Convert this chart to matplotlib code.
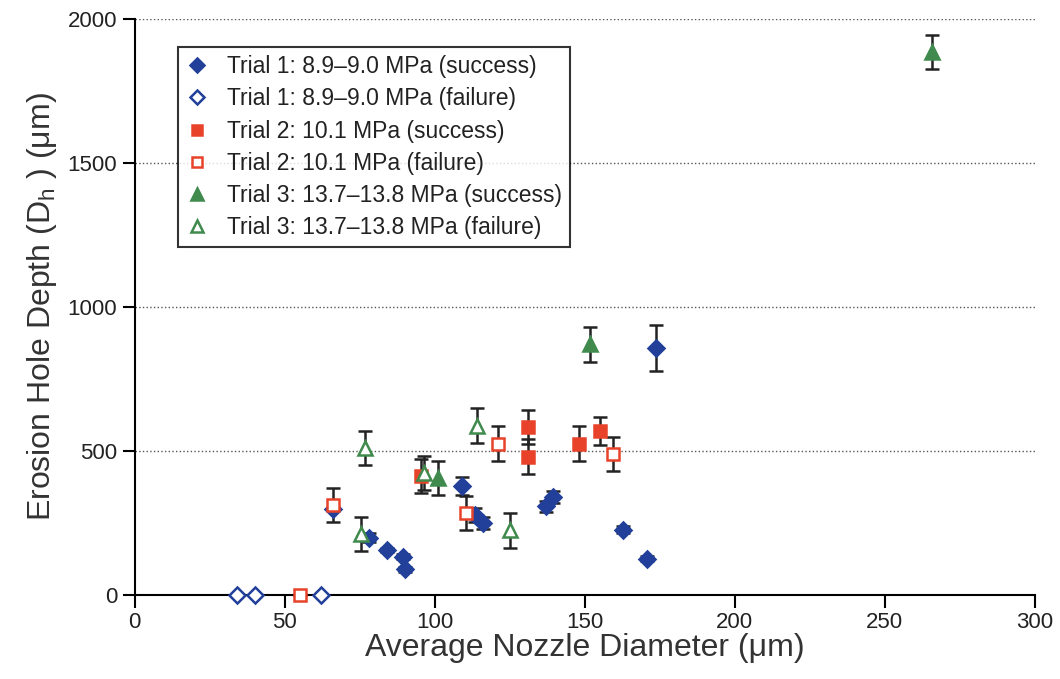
import matplotlib
matplotlib.use("Agg")
import matplotlib.pyplot as plt

plt.rcParams['font.family'] = ['Liberation Sans', 'DejaVu Sans']

# Trial 1: 8.9-9.0 MPa
t1s_x = [66, 78, 84, 89.4, 90, 109, 113.5, 116, 137, 139.5, 162.7, 170.7, 173.7]
t1s_y = [298, 198, 156, 132, 88, 378, 278, 250, 307, 340, 226, 126, 858]
t1s_e = [0, 15, 8, 8, 8, 32, 25, 20, 18, 22, 12, 8, 80]
t1f_x = [34, 40, 62]
t1f_y = [0, 0, 0]

# Trial 2: 10.1 MPa
t2s_x = [95.6, 131, 131, 148.3, 155.3]
t2s_y = [412, 583, 480, 525, 569]
t2s_e = [60, 60, 60, 60, 50]
t2f_x = [55, 66, 110.4, 121.3, 159.4]
t2f_y = [0, 312, 284, 525, 489]
t2f_e = [0, 60, 60, 60, 60]

# Trial 3: 13.7-13.8 MPa
t3s_x = [101, 151.7, 265.7]
t3s_y = [405, 870, 1885]
t3s_e = [60, 60, 60]
t3f_x = [75.3, 76.7, 96.4, 114.3, 125]
t3f_y = [211, 510, 423, 588, 224]
t3f_e = [60, 60, 60, 60, 60]

blue = '#22409a'
red = '#e8432a'
green = '#3f8a4c'

fig = plt.figure(figsize=(10.6, 6.79), dpi=100)
ax = fig.add_axes([0.127, 0.124, 0.849, 0.848])

ax.grid(axis='y', linestyle=':', color='#555555', linewidth=1.0)
ax.set_axisbelow(True)

eb = dict(ecolor='#222222', elinewidth=1.8, capsize=5, capthick=1.8, linestyle='none', clip_on=False)

series = [
    (t1s_x, t1s_y, t1s_e, 'D', blue, blue, 8, 'Trial 1: 8.9\u20139.0 MPa (success)'),
    (t1f_x, t1f_y, None, 'D', 'white', blue, 8, 'Trial 1: 8.9\u20139.0 MPa (failure)'),
    (t2s_x, t2s_y, t2s_e, 's', red, red, 8, 'Trial 2: 10.1 MPa (success)'),
    (t2f_x, t2f_y, t2f_e, 's', 'white', red, 8, 'Trial 2: 10.1 MPa (failure)'),
    (t3s_x, t3s_y, t3s_e, '^', green, green, 10, 'Trial 3: 13.7\u201313.8 MPa (success)'),
    (t3f_x, t3f_y, t3f_e, '^', 'white', green, 10, 'Trial 3: 13.7\u201313.8 MPa (failure)'),
]
handles = []
for x, y, e, m, fc, mec, ms, lab in series:
    if e is not None:
        ax.errorbar(x, y, yerr=e, fmt='none', zorder=2, **eb)
    h, = ax.plot(x, y, linestyle='none', marker=m, markerfacecolor=fc,
                 markeredgecolor=mec, markeredgewidth=1.8, markersize=ms,
                 label=lab, zorder=3, clip_on=False)
    handles.append(h)

ax.set_xlim(0, 300)
ax.set_ylim(0, 2000)
ax.set_xticks([0, 50, 100, 150, 200, 250, 300])
ax.set_yticks([0, 500, 1000, 1500, 2000])
for s in ['top', 'right']:
    ax.spines[s].set_visible(False)
for s in ['left', 'bottom']:
    ax.spines[s].set_linewidth(1.5)
ax.tick_params(direction='out', length=9, width=1.5, labelsize=16, labelcolor='#222222')

ax.set_xlabel('Average Nozzle Diameter (\u03bcm)', fontsize=23, color='#333333', labelpad=0)
ax.set_ylabel('Erosion Hole Depth (D$_\\mathregular{h}$ ) (\u03bcm)', fontsize=23, color='#333333', labelpad=6)

leg = ax.legend(handles=handles, loc='upper left', bbox_to_anchor=(0.048, 0.951),
                borderaxespad=0, fontsize=16.5, frameon=True, fancybox=False, edgecolor='black',
                handlelength=1.0, handletextpad=0.8, borderpad=0.35, labelspacing=0.4,
                markerscale=0.85)
leg.get_frame().set_linewidth(1.5)
for t in leg.get_texts():
    t.set_color('#222222')

fig.savefig('out.png', dpi=100)
